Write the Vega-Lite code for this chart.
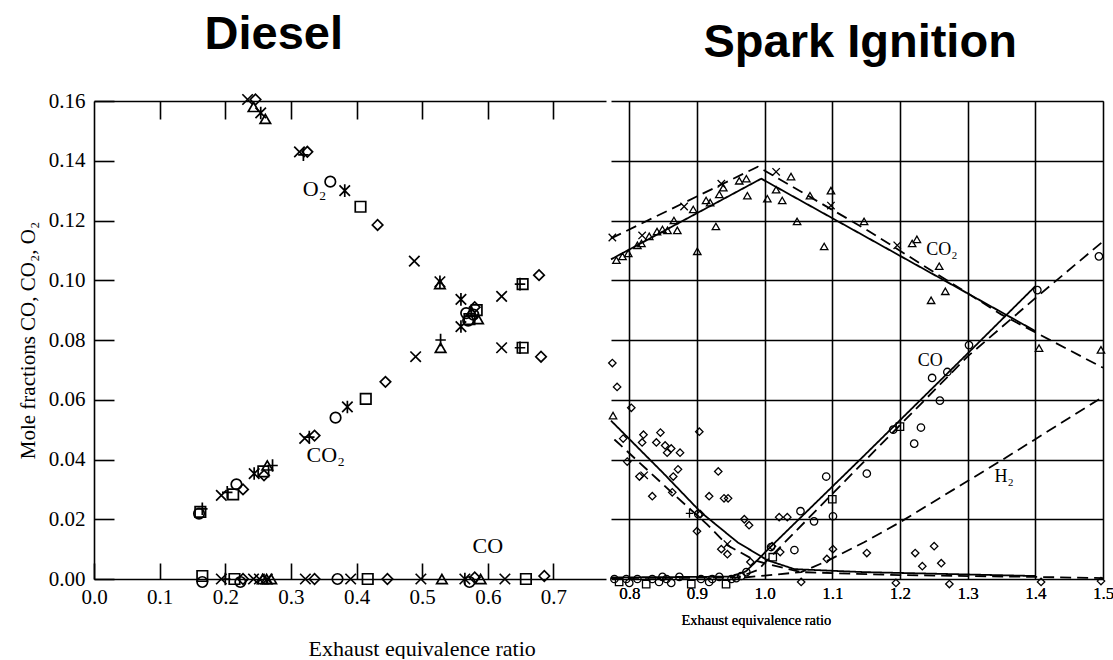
{
  "$schema": "https://vega.github.io/schema/vega-lite/v6.json",
  "padding": {"left": 17, "top": 10, "right": 0, "bottom": 0},
  "spacing": 0,
  "background": "white",
  "config": {
    "view": {"stroke": null},
    "axis": {"labelFont": "Liberation Serif", "titleFont": "Liberation Serif", "labelColor": "black", "titleColor": "black", "domainColor": "black", "tickColor": "black", "titleFontWeight": "normal", "grid": false}
  },
  "datasets": {
    "dpts": [
      {"x": 0.234, "y": 0.1605, "m": "x"}, {"x": 0.246, "y": 0.1605, "m": "diamond"}, {"x": 0.243, "y": 0.158, "m": "triangle"},
      {"x": 0.254, "y": 0.156, "m": "star"}, {"x": 0.261, "y": 0.154, "m": "triangle"}, {"x": 0.313, "y": 0.143, "m": "x"},
      {"x": 0.319, "y": 0.142, "m": "plus"}, {"x": 0.325, "y": 0.143, "m": "diamond"}, {"x": 0.36, "y": 0.133, "m": "circle"},
      {"x": 0.382, "y": 0.13, "m": "star"}, {"x": 0.406, "y": 0.1246, "m": "square"}, {"x": 0.432, "y": 0.1185, "m": "diamond"},
      {"x": 0.488, "y": 0.1064, "m": "x"}, {"x": 0.527, "y": 0.0987, "m": "triangle"}, {"x": 0.527, "y": 0.0995, "m": "star"},
      {"x": 0.559, "y": 0.0936, "m": "star"}, {"x": 0.567, "y": 0.089, "m": "circle"}, {"x": 0.575, "y": 0.0895, "m": "triangle"},
      {"x": 0.58, "y": 0.091, "m": "diamond"}, {"x": 0.572, "y": 0.087, "m": "square"}, {"x": 0.585, "y": 0.087, "m": "triangle"},
      {"x": 0.57, "y": 0.0865, "m": "circle"}, {"x": 0.578, "y": 0.0885, "m": "circle"}, {"x": 0.583, "y": 0.09, "m": "square"},
      {"x": 0.621, "y": 0.0774, "m": "x"}, {"x": 0.649, "y": 0.0774, "m": "plus"}, {"x": 0.653, "y": 0.0774, "m": "square"},
      {"x": 0.681, "y": 0.0744, "m": "diamond"},
      {"x": 0.16, "y": 0.0219, "m": "circle"}, {"x": 0.162, "y": 0.0225, "m": "square"}, {"x": 0.165, "y": 0.0235, "m": "plus"},
      {"x": 0.194, "y": 0.028, "m": "x"}, {"x": 0.203, "y": 0.029, "m": "plus"}, {"x": 0.212, "y": 0.0283, "m": "square"},
      {"x": 0.217, "y": 0.0317, "m": "circle"}, {"x": 0.227, "y": 0.03, "m": "diamond"}, {"x": 0.244, "y": 0.0353, "m": "star"},
      {"x": 0.259, "y": 0.0347, "m": "diamond"}, {"x": 0.258, "y": 0.036, "m": "square"}, {"x": 0.264, "y": 0.038, "m": "triangle"},
      {"x": 0.272, "y": 0.038, "m": "plus"}, {"x": 0.321, "y": 0.0471, "m": "x"}, {"x": 0.328, "y": 0.0475, "m": "plus"},
      {"x": 0.336, "y": 0.048, "m": "diamond"}, {"x": 0.368, "y": 0.054, "m": "circle"}, {"x": 0.386, "y": 0.0576, "m": "star"},
      {"x": 0.414, "y": 0.0603, "m": "square"}, {"x": 0.444, "y": 0.066, "m": "diamond"}, {"x": 0.49, "y": 0.0744, "m": "x"},
      {"x": 0.528, "y": 0.0774, "m": "triangle"}, {"x": 0.528, "y": 0.08, "m": "plus"}, {"x": 0.559, "y": 0.0845, "m": "star"},
      {"x": 0.621, "y": 0.0946, "m": "x"}, {"x": 0.649, "y": 0.0987, "m": "plus"}, {"x": 0.653, "y": 0.0987, "m": "square"},
      {"x": 0.678, "y": 0.1017, "m": "diamond"},
      {"x": 0.165, "y": 0.001, "m": "square"}, {"x": 0.165, "y": -0.001, "m": "circle"}, {"x": 0.194, "y": 0, "m": "x"},
      {"x": 0.2, "y": 0, "m": "plus"}, {"x": 0.214, "y": 0, "m": "square"}, {"x": 0.223, "y": -0.001, "m": "circle"},
      {"x": 0.227, "y": 0, "m": "diamond"}, {"x": 0.243, "y": 0, "m": "x"}, {"x": 0.252, "y": 0, "m": "x"},
      {"x": 0.257, "y": 0, "m": "triangle"}, {"x": 0.263, "y": 0, "m": "triangle"}, {"x": 0.27, "y": 0, "m": "triangle"},
      {"x": 0.264, "y": 0, "m": "x"}, {"x": 0.322, "y": 0, "m": "x"}, {"x": 0.336, "y": 0, "m": "diamond"},
      {"x": 0.371, "y": 0, "m": "circle"}, {"x": 0.391, "y": 0, "m": "x"}, {"x": 0.417, "y": 0, "m": "square"},
      {"x": 0.447, "y": 0, "m": "diamond"}, {"x": 0.498, "y": 0, "m": "x"}, {"x": 0.53, "y": 0, "m": "triangle"},
      {"x": 0.565, "y": 0, "m": "star"}, {"x": 0.572, "y": -0.001, "m": "circle"}, {"x": 0.58, "y": 0.0005, "m": "diamond"},
      {"x": 0.589, "y": 0, "m": "triangle"}, {"x": 0.626, "y": 0, "m": "x"}, {"x": 0.658, "y": 0, "m": "square"},
      {"x": 0.686, "y": 0.001, "m": "diamond"}
    ],
    "dlab": [
      {"x": 0.336, "y": 0.1306, "t": "O₂"}, {"x": 0.353, "y": 0.0414, "t": "CO₂"}, {"x": 0.6, "y": 0.0111, "t": "CO"}
    ],
    "slines": [
      {"s": "CO2 a", "d": "solid", "x": 0.773, "y": 0.107}, {"s": "CO2 a", "d": "solid", "x": 0.995, "y": 0.134}, {"s": "CO2 a", "d": "solid", "x": 1.4, "y": 0.083},
      {"s": "CO2 b", "d": "dashed", "x": 0.773, "y": 0.114}, {"s": "CO2 b", "d": "dashed", "x": 0.99, "y": 0.138}, {"s": "CO2 b", "d": "dashed", "x": 1.15, "y": 0.117}, {"s": "CO2 b", "d": "dashed", "x": 1.35, "y": 0.0885}, {"s": "CO2 b", "d": "dashed", "x": 1.5, "y": 0.0707},
      {"s": "O2 a", "d": "solid", "x": 0.773, "y": 0.053}, {"s": "O2 a", "d": "solid", "x": 0.85, "y": 0.0355}, {"s": "O2 a", "d": "solid", "x": 0.906, "y": 0.0223}, {"s": "O2 a", "d": "solid", "x": 0.96, "y": 0.0123}, {"s": "O2 a", "d": "solid", "x": 1.004, "y": 0.0063}, {"s": "O2 a", "d": "solid", "x": 1.044, "y": 0.0033}, {"s": "O2 a", "d": "solid", "x": 1.147, "y": 0.0023}, {"s": "O2 a", "d": "solid", "x": 1.4, "y": 0.001},
      {"s": "O2 b", "d": "dashed", "x": 0.778, "y": 0.0467}, {"s": "O2 b", "d": "dashed", "x": 0.866, "y": 0.0283}, {"s": "O2 b", "d": "dashed", "x": 0.915, "y": 0.0183}, {"s": "O2 b", "d": "dashed", "x": 0.945, "y": 0.0113}, {"s": "O2 b", "d": "dashed", "x": 0.985, "y": 0.0063}, {"s": "O2 b", "d": "dashed", "x": 1.004, "y": 0.005}, {"s": "O2 b", "d": "dashed", "x": 1.054, "y": 0.0023}, {"s": "O2 b", "d": "dashed", "x": 1.2, "y": 0.0013}, {"s": "O2 b", "d": "dashed", "x": 1.4, "y": 0.0007}, {"s": "O2 b", "d": "dashed", "x": 1.5, "y": 0.0003},
      {"s": "CO a", "d": "solid", "x": 0.773, "y": 0.0005}, {"s": "CO a", "d": "solid", "x": 0.95, "y": 0.0008}, {"s": "CO a", "d": "solid", "x": 0.972, "y": 0.0025}, {"s": "CO a", "d": "solid", "x": 0.988, "y": 0.006}, {"s": "CO a", "d": "solid", "x": 1.004, "y": 0.0097}, {"s": "CO a", "d": "solid", "x": 1.147, "y": 0.0413}, {"s": "CO a", "d": "solid", "x": 1.3, "y": 0.0755}, {"s": "CO a", "d": "solid", "x": 1.4, "y": 0.098},
      {"s": "CO b", "d": "dashed", "x": 0.773, "y": 0.0003}, {"s": "CO b", "d": "dashed", "x": 0.96, "y": 0.0005}, {"s": "CO b", "d": "dashed", "x": 0.99, "y": 0.003}, {"s": "CO b", "d": "dashed", "x": 1.02, "y": 0.01}, {"s": "CO b", "d": "dashed", "x": 1.15, "y": 0.04}, {"s": "CO b", "d": "dashed", "x": 1.3, "y": 0.0745}, {"s": "CO b", "d": "dashed", "x": 1.4, "y": 0.094}, {"s": "CO b", "d": "dashed", "x": 1.5, "y": 0.113},
      {"s": "H2", "d": "dashed", "x": 0.97, "y": 0.0005}, {"s": "H2", "d": "dashed", "x": 1.054, "y": 0.0023}, {"s": "H2", "d": "dashed", "x": 1.092, "y": 0.006}, {"s": "H2", "d": "dashed", "x": 1.147, "y": 0.0123}, {"s": "H2", "d": "dashed", "x": 1.2, "y": 0.019}, {"s": "H2", "d": "dashed", "x": 1.35, "y": 0.0397}, {"s": "H2", "d": "dashed", "x": 1.5, "y": 0.061}
    ],
    "spts": [
      {"x": 0.781, "y": 0.1067, "m": "triangle"}, {"x": 0.79, "y": 0.108, "m": "triangle"}, {"x": 0.7985, "y": 0.109, "m": "triangle"},
      {"x": 0.812, "y": 0.1117, "m": "triangle"}, {"x": 0.818, "y": 0.1123, "m": "triangle"}, {"x": 0.8295, "y": 0.1147, "m": "triangle"},
      {"x": 0.841, "y": 0.1163, "m": "triangle"}, {"x": 0.849, "y": 0.117, "m": "triangle"}, {"x": 0.8565, "y": 0.1167, "m": "triangle"},
      {"x": 0.866, "y": 0.12, "m": "triangle"}, {"x": 0.871, "y": 0.1167, "m": "triangle"}, {"x": 0.8945, "y": 0.1237, "m": "triangle"},
      {"x": 0.9005, "y": 0.1097, "m": "triangle"}, {"x": 0.9135, "y": 0.1267, "m": "triangle"}, {"x": 0.9195, "y": 0.126, "m": "triangle"},
      {"x": 0.928, "y": 0.118, "m": "triangle"}, {"x": 0.933, "y": 0.1287, "m": "triangle"}, {"x": 0.939, "y": 0.131, "m": "triangle"},
      {"x": 0.9625, "y": 0.1333, "m": "triangle"}, {"x": 0.973, "y": 0.134, "m": "triangle"}, {"x": 0.9745, "y": 0.1283, "m": "triangle"},
      {"x": 1.004, "y": 0.1273, "m": "triangle"}, {"x": 1.017, "y": 0.1303, "m": "triangle"}, {"x": 1.026, "y": 0.1267, "m": "triangle"},
      {"x": 1.039, "y": 0.1347, "m": "triangle"}, {"x": 1.048, "y": 0.1197, "m": "triangle"}, {"x": 1.067, "y": 0.1283, "m": "triangle"},
      {"x": 1.088, "y": 0.1113, "m": "triangle"}, {"x": 1.098, "y": 0.13, "m": "triangle"}, {"x": 1.147, "y": 0.1197, "m": "triangle"},
      {"x": 1.218, "y": 0.1123, "m": "triangle"}, {"x": 1.225, "y": 0.1137, "m": "triangle"}, {"x": 1.258, "y": 0.1047, "m": "triangle"},
      {"x": 1.267, "y": 0.0963, "m": "triangle"}, {"x": 1.246, "y": 0.0933, "m": "triangle"}, {"x": 1.4055, "y": 0.0773, "m": "triangle"},
      {"x": 1.497, "y": 0.0767, "m": "triangle"}, {"x": 0.776, "y": 0.0547, "m": "triangle"},
      {"x": 0.775, "y": 0.1143, "m": "x"}, {"x": 0.819, "y": 0.115, "m": "x"}, {"x": 0.881, "y": 0.1247, "m": "x"},
      {"x": 0.936, "y": 0.1323, "m": "x"}, {"x": 1.017, "y": 0.1363, "m": "x"}, {"x": 1.098, "y": 0.125, "m": "x"}, {"x": 1.196, "y": 0.1117, "m": "x"},
      {"x": 1.0095, "y": 0.0107, "m": "circle"}, {"x": 1.044, "y": 0.0097, "m": "circle"}, {"x": 1.053, "y": 0.0227, "m": "circle"},
      {"x": 1.073, "y": 0.0193, "m": "circle"}, {"x": 1.091, "y": 0.0343, "m": "circle"}, {"x": 1.101, "y": 0.021, "m": "circle"},
      {"x": 1.151, "y": 0.0353, "m": "circle"}, {"x": 1.19, "y": 0.05, "m": "circle"}, {"x": 1.221, "y": 0.0453, "m": "circle"},
      {"x": 1.231, "y": 0.0507, "m": "circle"}, {"x": 1.2475, "y": 0.0673, "m": "circle"}, {"x": 1.259, "y": 0.0597, "m": "circle"},
      {"x": 1.27, "y": 0.0693, "m": "circle"}, {"x": 1.302, "y": 0.0783, "m": "circle"}, {"x": 1.403, "y": 0.0967, "m": "circle"},
      {"x": 1.494, "y": 0.108, "m": "circle"}, {"x": 0.973, "y": 0.0023, "m": "circle"}, {"x": 0.902, "y": 0.0217, "m": "circle"},
      {"x": 1.1, "y": 0.0267, "m": "square"}, {"x": 1.2, "y": 0.051, "m": "square"}, {"x": 1.012, "y": 0.0073, "m": "square"},
      {"x": 0.775, "y": 0.0723, "m": "diamond"}, {"x": 0.782, "y": 0.0643, "m": "diamond"}, {"x": 0.803, "y": 0.0573, "m": "diamond"},
      {"x": 0.791, "y": 0.047, "m": "diamond"}, {"x": 0.797, "y": 0.0393, "m": "diamond"}, {"x": 0.821, "y": 0.0483, "m": "diamond"},
      {"x": 0.819, "y": 0.0457, "m": "diamond"}, {"x": 0.815, "y": 0.0343, "m": "diamond"}, {"x": 0.834, "y": 0.0277, "m": "diamond"},
      {"x": 0.84, "y": 0.0457, "m": "diamond"}, {"x": 0.846, "y": 0.049, "m": "diamond"}, {"x": 0.853, "y": 0.0447, "m": "diamond"},
      {"x": 0.856, "y": 0.0423, "m": "diamond"}, {"x": 0.862, "y": 0.0437, "m": "diamond"}, {"x": 0.875, "y": 0.0423, "m": "diamond"},
      {"x": 0.872, "y": 0.0367, "m": "diamond"}, {"x": 0.865, "y": 0.0343, "m": "diamond"}, {"x": 0.8635, "y": 0.029, "m": "diamond"},
      {"x": 0.9035, "y": 0.0493, "m": "diamond"}, {"x": 0.9315, "y": 0.036, "m": "diamond"}, {"x": 0.918, "y": 0.0277, "m": "diamond"},
      {"x": 0.94, "y": 0.027, "m": "diamond"}, {"x": 0.946, "y": 0.027, "m": "diamond"}, {"x": 0.9, "y": 0.016, "m": "diamond"},
      {"x": 0.905, "y": 0.0217, "m": "diamond"}, {"x": 0.936, "y": 0.01, "m": "diamond"}, {"x": 0.945, "y": 0.0083, "m": "diamond"},
      {"x": 0.97, "y": 0.02, "m": "diamond"}, {"x": 0.977, "y": 0.018, "m": "diamond"}, {"x": 1.0215, "y": 0.0207, "m": "diamond"},
      {"x": 1.0335, "y": 0.0207, "m": "diamond"}, {"x": 1.011, "y": 0.011, "m": "diamond"}, {"x": 1.023, "y": 0.009, "m": "diamond"},
      {"x": 0.979, "y": 0.0057, "m": "diamond"}, {"x": 1.054, "y": -0.001, "m": "diamond"}, {"x": 1.101, "y": 0.01, "m": "diamond"},
      {"x": 1.092, "y": 0.0067, "m": "diamond"}, {"x": 1.151, "y": 0.0087, "m": "diamond"}, {"x": 1.2225, "y": 0.0087, "m": "diamond"},
      {"x": 1.233, "y": 0.0043, "m": "diamond"}, {"x": 1.2505, "y": 0.011, "m": "diamond"}, {"x": 1.261, "y": 0.0053, "m": "diamond"},
      {"x": 1.194, "y": -0.0013, "m": "diamond"}, {"x": 1.273, "y": -0.0017, "m": "diamond"}, {"x": 1.4085, "y": -0.001, "m": "diamond"},
      {"x": 1.497, "y": -0.0007, "m": "diamond"},
      {"x": 0.822, "y": 0.0347, "m": "x"}, {"x": 0.945, "y": 0.0117, "m": "x"}, {"x": 0.889, "y": 0.022, "m": "plus"},
      {"x": 0.778, "y": 0.0, "m": "circle"}, {"x": 0.785, "y": -0.001, "m": "square"}, {"x": 0.7956, "y": 0.0, "m": "circle"},
      {"x": 0.8, "y": -0.0013, "m": "circle"}, {"x": 0.812, "y": 0.0, "m": "circle"}, {"x": 0.825, "y": -0.0017, "m": "square"},
      {"x": 0.834, "y": 0.0, "m": "circle"}, {"x": 0.844, "y": -0.001, "m": "circle"}, {"x": 0.849, "y": 0.0007, "m": "circle"},
      {"x": 0.855, "y": 0.0, "m": "circle"}, {"x": 0.862, "y": -0.0013, "m": "circle"}, {"x": 0.874, "y": 0.0007, "m": "circle"},
      {"x": 0.8916, "y": -0.0017, "m": "square"}, {"x": 0.906, "y": 0.0, "m": "circle"}, {"x": 0.918, "y": -0.001, "m": "circle"},
      {"x": 0.9226, "y": 0.0, "m": "circle"}, {"x": 0.933, "y": 0.0007, "m": "circle"}, {"x": 0.943, "y": -0.0017, "m": "square"},
      {"x": 0.951, "y": 0.0, "m": "circle"}, {"x": 0.958, "y": 0.0003, "m": "circle"}, {"x": 0.9655, "y": 0.001, "m": "circle"}
    ],
    "slab": [
      {"x": 1.262, "y": 0.11, "t": "CO₂"}, {"x": 1.2446, "y": 0.073, "t": "CO"}, {"x": 1.354, "y": 0.034, "t": "H₂"}
    ]
  },
  "hconcat": [
    {
      "width": 512,
      "height": 478,
      "resolve": {"axis": {"x": "independent"}},
      "encoding": {
        "x": {"field": "x", "type": "quantitative", "scale": {"domain": [0, 0.78], "nice": false, "zero": false},
          "axis": {"orient": "bottom", "values": [0, 0.1, 0.2, 0.3, 0.4, 0.5, 0.6, 0.7], "format": ".1f", "labelFlush": false, "tickSize": -16, "tickWidth": 1.6, "domainWidth": 1.6, "labelPadding": 23, "labelFontSize": 21, "title": "Exhaust equivalence ratio", "titleFontSize": 22, "titlePadding": 31, "titleAnchor": "start", "titleX": 214}},
        "y": {"field": "y", "type": "quantitative", "scale": {"domain": [0, 0.16], "nice": false, "zero": false},
          "axis": {"orient": "left", "values": [0, 0.02, 0.04, 0.06, 0.08, 0.1, 0.12, 0.14, 0.16], "format": ".2f", "labelFlush": false, "tickSize": -20, "tickWidth": 1.6, "domainWidth": 1.6, "labelPadding": 29, "labelFontSize": 21, "title": "Mole fractions CO, CO₂, O₂", "titleFontSize": 21, "titlePadding": 10}}
      },
      "layer": [
        {
          "data": {"name": "dpts"},
          "mark": {"type": "point", "filled": false, "stroke": "black", "strokeWidth": 1.7, "size": 110, "opacity": 1},
          "encoding": {
            "shape": {"field": "m", "type": "nominal", "legend": null,
              "scale": {"domain": ["circle", "square", "diamond", "triangle", "x", "plus", "star"],
                "range": ["circle", "square", "diamond", "triangle-up", "M-1,-1L1,1M-1,1L1,-1", "M0,-1.2L0,1.2M-1,0L1,0", "M-1,-1L1,1M-1,1L1,-1M0,-1.2L0,1.2"]}}
          }
        },
        {
          "data": {"name": "dlab"},
          "mark": {"type": "text", "font": "Liberation Serif", "fontSize": 22, "color": "black"},
          "encoding": {
            "x": {"field": "x", "type": "quantitative", "scale": {"domain": [0, 0.78], "nice": false, "zero": false},
              "axis": {"orient": "top", "values": [0.1, 0.2, 0.3, 0.4, 0.5, 0.6, 0.7], "labels": false, "tickSize": -18, "tickWidth": 1.6, "domainWidth": 1.6, "title": "Diesel", "titleFont": "Liberation Sans", "titleFontWeight": "bold", "titleFontSize": 47, "titlePadding": 42, "titleAnchor": "start", "titleX": 110}},
            "text": {"field": "t", "type": "nominal"}
          }
        }
      ]
    },
    {
      "width": 492,
      "height": 478,
      "encoding": {
        "x": {"field": "x", "type": "quantitative", "scale": {"domain": [0.773, 1.5], "nice": false, "zero": false},
          "axis": {"orient": "bottom", "values": [0.8, 0.9, 1.0, 1.1, 1.2, 1.3, 1.4, 1.5], "format": ".1f", "labelFlush": false, "ticks": false, "domain": false, "grid": true, "gridColor": "black", "gridOpacity": 1, "gridWidth": 1.3, "labelPadding": 6, "labelFontSize": 17, "title": "Exhaust equivalence ratio", "titleFontSize": 14.5, "titlePadding": 12, "titleAnchor": "start", "titleX": 70}},
        "y": {"field": "y", "type": "quantitative", "scale": {"domain": [0, 0.16], "nice": false, "zero": false},
          "axis": {"values": [0, 0.02, 0.04, 0.06, 0.08, 0.1, 0.12, 0.14, 0.16], "labels": false, "ticks": false, "domain": false, "grid": true, "gridColor": "black", "gridOpacity": 1, "gridWidth": 1.3, "title": null, "minExtent": 0}}
      },
      "layer": [
        {
          "data": {"name": "slines"},
          "mark": {"type": "line", "color": "black", "strokeWidth": 1.8},
          "encoding": {
            "detail": {"field": "s", "type": "nominal"},
            "strokeDash": {"field": "d", "type": "nominal", "legend": null, "scale": {"domain": ["solid", "dashed"], "range": [[1, 0], [11, 6]]}}
          }
        },
        {
          "data": {"name": "spts"},
          "mark": {"type": "point", "filled": false, "stroke": "black", "strokeWidth": 1.3, "size": 55, "opacity": 1},
          "encoding": {
            "shape": {"field": "m", "type": "nominal", "legend": null,
              "scale": {"domain": ["circle", "square", "diamond", "triangle", "x", "plus", "star"],
                "range": ["circle", "square", "diamond", "triangle-up", "M-1,-1L1,1M-1,1L1,-1", "M0,-1.2L0,1.2M-1,0L1,0", "M-1,-1L1,1M-1,1L1,-1M0,-1.2L0,1.2"]}}
          }
        },
        {
          "data": {"name": "slab"},
          "mark": {"type": "text", "font": "Liberation Serif", "fontSize": 18, "color": "black"},
          "encoding": {
            "x": {"field": "x", "type": "quantitative", "scale": {"domain": [0.773, 1.5], "nice": false, "zero": false},
              "axis": {"orient": "top", "labels": false, "ticks": false, "domain": false, "grid": false, "title": "Spark Ignition", "titleFont": "Liberation Sans", "titleFontWeight": "bold", "titleFontSize": 47, "titlePadding": 35, "titleAnchor": "start", "titleX": 92}},
            "text": {"field": "t", "type": "nominal"}
          }
        }
      ],
      "resolve": {"axis": {"x": "independent"}}
    }
  ]
}
